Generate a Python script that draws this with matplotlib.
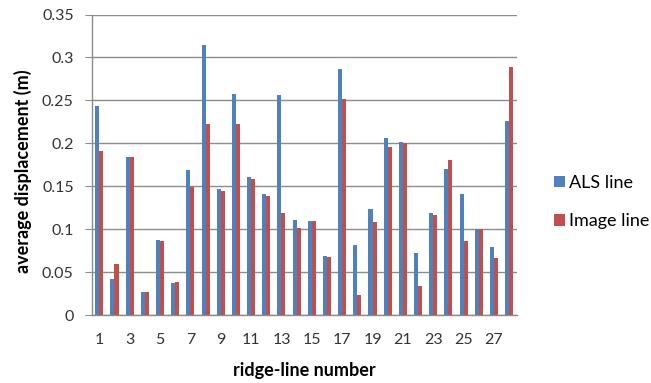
import matplotlib
matplotlib.use("Agg")
import matplotlib.pyplot as plt
import numpy as np

plt.rcParams['font.family'] = ['Lato', 'DejaVu Sans']

ridge_lines = list(range(1, 29))
als_line = [0.244, 0.042, 0.184, 0.027, 0.087, 0.037, 0.169, 0.314, 0.147, 0.257,
            0.161, 0.141, 0.256, 0.111, 0.109, 0.069, 0.287, 0.081, 0.124, 0.206,
            0.202, 0.072, 0.119, 0.170, 0.141, 0.100, 0.079, 0.226]
image_line = [0.191, 0.059, 0.184, 0.027, 0.086, 0.039, 0.149, 0.222, 0.144, 0.222,
              0.159, 0.139, 0.119, 0.101, 0.109, 0.067, 0.252, 0.023, 0.108, 0.196,
              0.200, 0.034, 0.117, 0.180, 0.086, 0.100, 0.066, 0.289]
y_ticks = [0, 0.05, 0.1, 0.15, 0.2, 0.25, 0.3, 0.35]
y_tick_labels = ['0', '0.05', '0.1', '0.15', '0.2', '0.25', '0.3', '0.35']

fig = plt.figure(figsize=(6.51, 3.83), dpi=100)
ax = fig.add_axes([0.1409, 0.1775, 0.6528, 0.7846])

x = np.arange(len(ridge_lines))
w = 0.265
ax.bar(x - w / 2, als_line, width=w, color='#4F81BD', label='ALS line', zorder=3)
ax.bar(x + w / 2, image_line, width=w, color='#C0504D', label='Image line', zorder=3)

ax.set_xlim(-0.5, len(ridge_lines) - 0.5)
ax.set_ylim(0, 0.35)
ax.set_yticks(y_ticks)
ax.set_yticklabels(y_tick_labels)
ax.set_xticks(x[::2])
ax.set_xticklabels([str(r) for r in ridge_lines[::2]])

ax.yaxis.grid(True, color='#8c8c8c', linewidth=1.0, zorder=0)
ax.set_axisbelow(True)
for side in ('top', 'right'):
    ax.spines[side].set_visible(False)
for side in ('left', 'bottom'):
    ax.spines[side].set_color('#8c8c8c')
    ax.spines[side].set_linewidth(1.0)

ax.tick_params(axis='y', length=5, color='#8c8c8c', labelsize=11.5, pad=8, labelcolor='#333333')
ax.tick_params(axis='x', length=0, labelsize=11.5, pad=13, labelcolor='#333333')

ax.set_ylabel('average displacement (m)', fontsize=13, fontweight='bold', va='center')
ax.yaxis.set_label_coords(-0.1616, 0.48)
ax.set_xlabel('ridge-line number', fontsize=13, fontweight='bold', va='center')
ax.xaxis.set_label_coords(0.5, -0.183)

fig.legend(loc='center left', bbox_to_anchor=(0.826, 0.4726), frameon=False,
           fontsize=13, handlelength=0.6, handleheight=0.6, handletextpad=0.25,
           labelspacing=1.25)

fig.savefig('out.png', dpi=100)
